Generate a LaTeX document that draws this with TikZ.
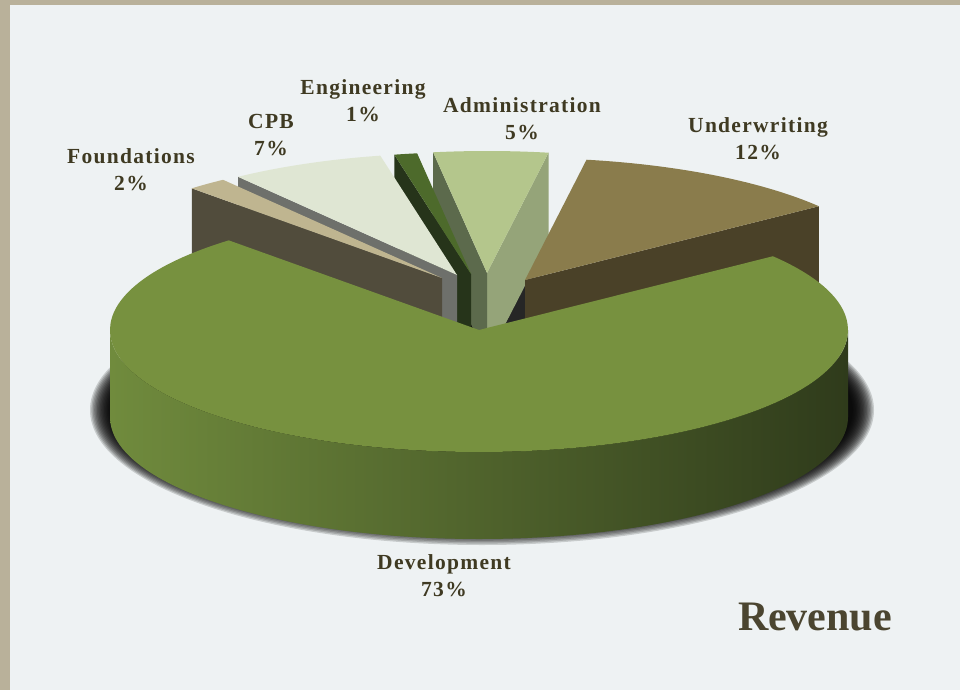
\documentclass[tikz,border=0pt]{standalone}
\usepackage{fontspec}
\setmainfont{Liberation Serif}
\newfontfamily\lblfont{Liberation Serif}[LetterSpace=6]
\definecolor{bg}{HTML}{EEF2F3}
\definecolor{framecol}{HTML}{B9B19A}
\definecolor{txt}{HTML}{3F3A22}
\definecolor{revcol}{HTML}{4B4530}
\definecolor{devtop}{HTML}{77913F}
\definecolor{devL}{HTML}{708B3D}
\definecolor{devM}{HTML}{4F632C}
\definecolor{devR}{HTML}{2F3B1B}
\definecolor{untop}{HTML}{8A7C4C}
\definecolor{unwall}{HTML}{4A4128}
\definecolor{adtop}{HTML}{B4C68C}
\definecolor{adR}{HTML}{95A479}
\definecolor{adL}{HTML}{5C6A4C}
\definecolor{entop}{HTML}{4D6A2B}
\definecolor{enwall}{HTML}{26341A}
\definecolor{cptop}{HTML}{DFE6D3}
\definecolor{cpwall}{HTML}{6E706B}
\definecolor{fotop}{HTML}{BFB590}
\definecolor{fowall}{HTML}{514C3C}
\def\ra{369}
\def\rb{122}
\def\hh{87}
% top face: colour, apex x, apex y, angle 1, angle 2
\newcommand\topface[5]{%
  \fill[#1] (#2,#3) -- ({#2+\ra*cos(#4)},{#3-\rb*sin(#4)})
    arc[start angle={-#4}, end angle={-#5}, x radius=\ra, y radius=\rb] -- cycle;}
% radial wall: colour, apex x, apex y, angle
\newcommand\radwall[4]{%
  \fill[#1] (#2,#3) -- ({#2+\ra*cos(#4)},{#3-\rb*sin(#4)}) -- ++(0,\hh)
    -- (#2,{#3+\hh}) -- cycle;}
\tikzset{
  lbl/.style={align=center, inner sep=0pt, text=txt,
    font=\lblfont\bfseries\fontsize{21.5}{27}\selectfont},
  shadowlayer/.style={fill=black, opacity=0.16}
}
\begin{document}
\begin{tikzpicture}[x=1pt,y=1pt,yscale=-1]
\useasboundingbox (0,0) rectangle (960,690);
% background and frame
\fill[bg] (0,0) rectangle (960,690);
\fill[framecol] (0,0) rectangle (10,690);
\fill[framecol] (0,0) rectangle (960,5);
% shadow of the pie
\foreach \k in {0,...,15}
  \fill[shadowlayer] (482,410) ellipse [x radius={392-1.4*\k}, y radius={135-1.4*\k}];
\fill[black!85] (503,330) -- (525,284) -- (530,330) -- cycle;
% Administration
\radwall{adR}{487}{273}{80.4}
\radwall{adL}{487}{273}{98.4}
\topface{adtop}{487}{273}{80.4}{98.4}
% Underwriting
\radwall{unwall}{525}{280}{37.2}
\topface{untop}{525}{280}{37.2}{80.4}
% Engineering
\radwall{enwall}{471}{274}{102}
\topface{entop}{471}{274}{98.4}{102}
% CPB
\radwall{cpwall}{457}{275}{126.4}
\topface{cptop}{457}{275}{102}{126.4}
% Foundations
\radwall{fowall}{442}{278}{132.7}
\topface{fotop}{442}{278}{126.4}{132.7}
% Development: side and top
\shade[left color=devL, middle color=devM, right color=devR]
  ({479-\ra},330) arc[start angle=-180, end angle=-360, x radius=\ra, y radius=\rb]
  -- ++(0,\hh) arc[start angle=-360, end angle=-180, x radius=\ra, y radius=\rb] -- cycle;
\topface{devtop}{479}{330}{132.7}{397.2}
% labels
\node[lbl] (found) at (131,170) {Foundations\\2\%};
\node[lbl] (cpb) at (271,135) {CPB\\7\%};
\node[lbl] (eng) at (363,101) {Engineering\\1\%};
\node[lbl] (adm) at (522,119) {Administration\\5\%};
\node[lbl] (und) at (758,139) {Underwriting\\12\%};
\node[lbl] (dev) at (444,576) {Development\\73\%};
\node[inner sep=0pt, text=revcol, font=\bfseries\fontsize{42}{46}\selectfont] (rev) at (815,617) {Revenue};
\end{tikzpicture}
\end{document}
